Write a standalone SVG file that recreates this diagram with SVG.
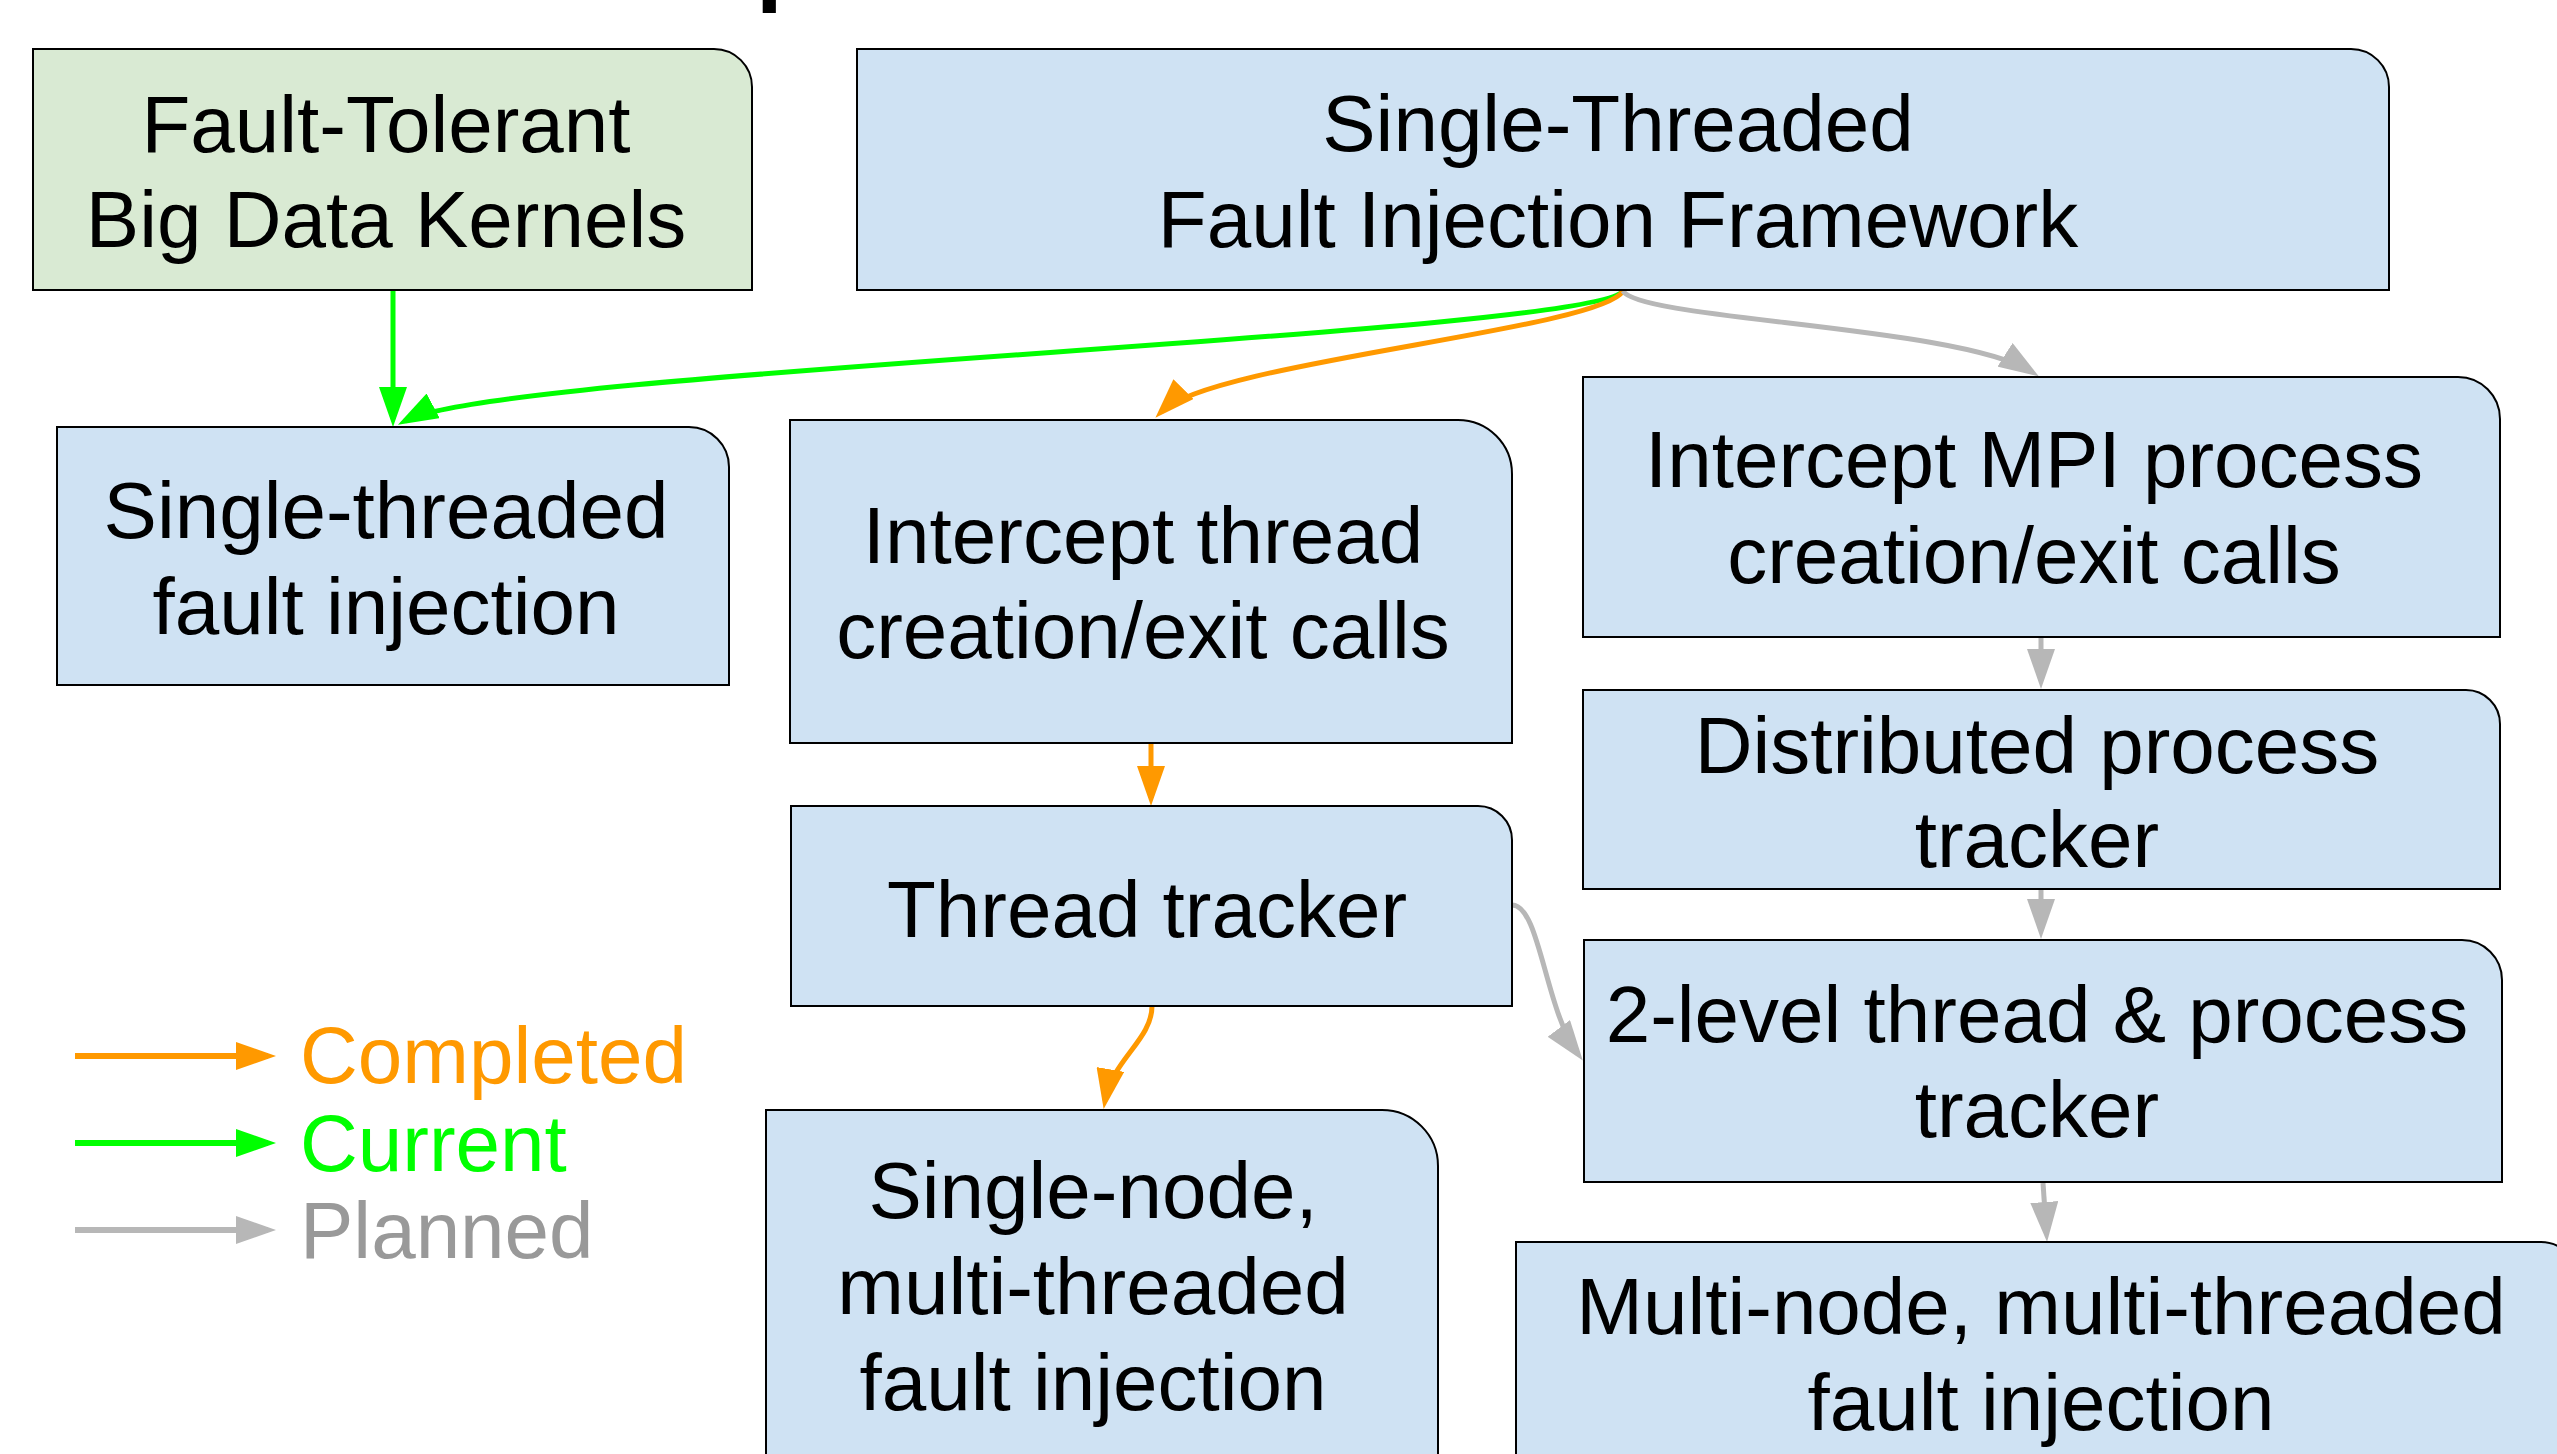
<svg xmlns="http://www.w3.org/2000/svg" width="2557" height="1454" viewBox="0 0 2557 1454">
  <style>
    .box { stroke: #000; stroke-width: 2; }
    .blue { fill: #cfe2f3; }
    .green { fill: #d9ead3; }
    .lbl { font-family: "Liberation Sans", Arial, sans-serif; font-size: 80px; fill: #000; text-anchor: middle; }
    .leg { font-family: "Liberation Sans", Arial, sans-serif; font-size: 80px; }
    .edge { fill: none; stroke-width: 5; }
    .done { stroke: #ff9900; }
    .now { stroke: #00ff00; }
    .plan { stroke: #b7b7b7; }
  </style>
  <defs>
    <marker id="ah-done" markerUnits="userSpaceOnUse" markerWidth="40" markerHeight="28" refX="32" refY="14" orient="auto">
      <path d="M0,0 L40,14 L0,28 Z" fill="#ff9900"/>
    </marker>
    <marker id="ah-now" markerUnits="userSpaceOnUse" markerWidth="40" markerHeight="28" refX="32" refY="14" orient="auto">
      <path d="M0,0 L40,14 L0,28 Z" fill="#00ff00"/>
    </marker>
    <marker id="ah-plan" markerUnits="userSpaceOnUse" markerWidth="40" markerHeight="28" refX="32" refY="14" orient="auto">
      <path d="M0,0 L40,14 L0,28 Z" fill="#b7b7b7"/>
    </marker>
  </defs>

  <rect width="2557" height="1454" fill="#fff"/>

  <!-- title, mostly above the visible area -->
  <text x="756" y="-7" font-family="Liberation Sans, Arial, sans-serif" font-weight="bold" font-size="96" fill="#000">p</text>

  <!-- connectors -->
  <g id="connectors">
    <path class="edge now" d="M393,291 L393,419" marker-end="url(#ah-now)"/>
    <path class="edge now" d="M1623,291 C1590,335 500,370 405,421" marker-end="url(#ah-now)"/>
    <path class="edge done" d="M1623,291 C1600,330 1210,362 1161,412" marker-end="url(#ah-done)"/>
    <path class="edge plan" d="M1623,291 C1640,320 1960,326 2032,372" marker-end="url(#ah-plan)"/>
    <path class="edge done" d="M1151,744 L1151,798" marker-end="url(#ah-done)"/>
    <path class="edge done" d="M1152,1006 C1152,1040 1112,1060 1105,1101" marker-end="url(#ah-done)"/>
    <path class="edge plan" d="M2041,638 L2041,681" marker-end="url(#ah-plan)"/>
    <path class="edge plan" d="M2041,890 L2041,931" marker-end="url(#ah-plan)"/>
    <path class="edge plan" d="M2043,1183 L2046.5,1234" marker-end="url(#ah-plan)"/>
    <path class="edge plan" d="M1512,905 C1540,905 1545,1010 1578,1054" marker-end="url(#ah-plan)"/>
  </g>

  <!-- nodes -->
  <g id="kernels">
    <path class="box green" d="M33,49 H714 A38,38 0 0 1 752,87 V290 H33 Z"/>
    <text class="lbl" x="386" y="152">Fault-Tolerant</text>
    <text class="lbl" x="386" y="247">Big Data Kernels</text>
  </g>
  <g id="framework">
    <path class="box blue" d="M857,49 H2351 A38,38 0 0 1 2389,87 V290 H857 Z"/>
    <text class="lbl" x="1618" y="151">Single-Threaded</text>
    <text class="lbl" x="1618" y="247">Fault Injection Framework</text>
  </g>
  <g id="single-threaded">
    <path class="box blue" d="M57,427 H689 A40,40 0 0 1 729,467 V685 H57 Z"/>
    <text class="lbl" x="386" y="538">Single-threaded</text>
    <text class="lbl" x="386" y="634">fault injection</text>
  </g>
  <g id="intercept-thread">
    <path class="box blue" d="M790,420 H1458 A54,54 0 0 1 1512,474 V743 H790 Z"/>
    <text class="lbl" x="1143" y="563">Intercept thread</text>
    <text class="lbl" x="1143" y="658">creation/exit calls</text>
  </g>
  <g id="thread-tracker">
    <path class="box blue" d="M791,806 H1478 A34,34 0 0 1 1512,840 V1006 H791 Z"/>
    <text class="lbl" x="1147" y="937">Thread tracker</text>
  </g>
  <g id="intercept-mpi">
    <path class="box blue" d="M1583,377 H2458 A42,42 0 0 1 2500,419 V637 H1583 Z"/>
    <text class="lbl" x="2034" y="487">Intercept MPI process</text>
    <text class="lbl" x="2034" y="583">creation/exit calls</text>
  </g>
  <g id="process-tracker">
    <path class="box blue" d="M1583,690 H2466 A34,34 0 0 1 2500,724 V889 H1583 Z"/>
    <text class="lbl" x="2037" y="773">Distributed process</text>
    <text class="lbl" x="2037" y="867">tracker</text>
  </g>
  <g id="two-level-tracker">
    <path class="box blue" d="M1584,940 H2462 A40,40 0 0 1 2502,980 V1182 H1584 Z"/>
    <text class="lbl" x="2037" y="1042">2-level thread &amp; process</text>
    <text class="lbl" x="2037" y="1137">tracker</text>
  </g>
  <g id="single-node">
    <path class="box blue" d="M766,1110 H1382 A56,56 0 0 1 1438,1166 V1480 H766 Z"/>
    <text class="lbl" x="1093" y="1218">Single-node,</text>
    <text class="lbl" x="1093" y="1314">multi-threaded</text>
    <text class="lbl" x="1093" y="1410">fault injection</text>
  </g>
  <g id="multi-node">
    <path class="box blue" d="M1516,1242 H2541 A36,36 0 0 1 2577,1278 V1480 H1516 Z"/>
    <text class="lbl" x="2041" y="1334">Multi-node, multi-threaded</text>
    <text class="lbl" x="2041" y="1430">fault injection</text>
  </g>

  <!-- legend -->
  <g id="legend">
    <path d="M75,1056 L268,1056" fill="none" stroke="#ff9900" stroke-width="6" marker-end="url(#ah-done)"/>
    <path d="M75,1143 L268,1143" fill="none" stroke="#00ff00" stroke-width="6" marker-end="url(#ah-now)"/>
    <path d="M75,1230 L268,1230" fill="none" stroke="#b7b7b7" stroke-width="6" marker-end="url(#ah-plan)"/>
    <text class="leg" x="300" y="1083" fill="#ff9900">Completed</text>
    <text class="leg" x="300" y="1171" fill="#00ff00">Current</text>
    <text class="leg" x="300" y="1258" fill="#999999">Planned</text>
  </g>
</svg>
